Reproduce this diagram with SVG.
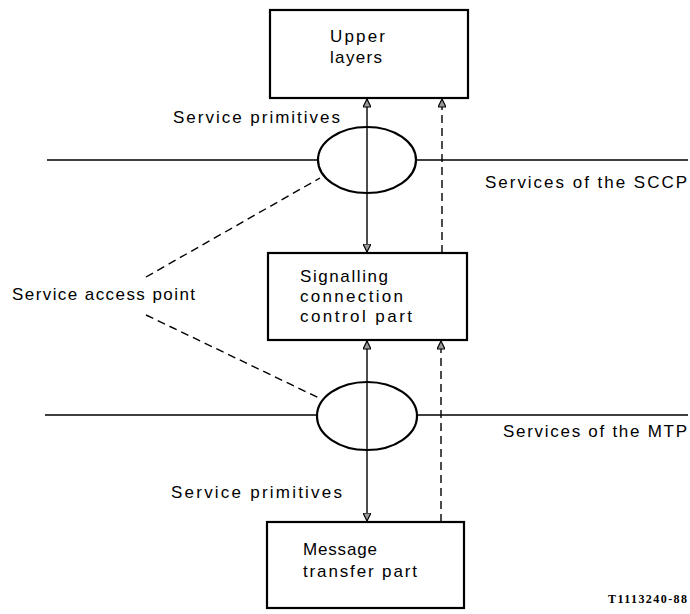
<svg xmlns="http://www.w3.org/2000/svg" width="690" height="614" viewBox="0 0 690 614">
<style>
.box{fill:#fff;stroke:#000;stroke-width:2.2}
.ell{fill:none;stroke:#000;stroke-width:2.2}
.ln{fill:none;stroke:#000;stroke-width:1.4}
.dash{fill:none;stroke:#000;stroke-width:1.4;stroke-dasharray:8,5}
text{font-family:"Liberation Sans",Arial,sans-serif;font-size:17px;fill:#000}
.id{font-family:"Liberation Serif","Times New Roman",serif;font-size:12px;font-weight:bold}
</style>
<defs>
<marker id="ah" viewBox="0 0 10 10" refX="10" refY="5" markerWidth="9" markerHeight="8" markerUnits="userSpaceOnUse" orient="auto-start-reverse">
<path d="M0,0 L10,5 L0,10 z" fill="#999" stroke="#000" stroke-width="1.5"/>
</marker>
</defs>
<g id="connectors">
<line class="ln" x1="47" y1="160" x2="318" y2="160"/>
<line class="ln" x1="417" y1="160" x2="688" y2="160"/>
<line class="ln" x1="45" y1="415" x2="318" y2="415"/>
<line class="ln" x1="417" y1="415" x2="688" y2="415"/>
<line class="dash" x1="146" y1="277" x2="320" y2="178"/>
<line class="dash" x1="146" y1="315" x2="319" y2="398"/>
<line class="ln" x1="367" y1="99" x2="367" y2="252" marker-start="url(#ah)" marker-end="url(#ah)"/>
<line class="dash" x1="442" y1="253" x2="442" y2="99" marker-end="url(#ah)"/>
<line class="ln" x1="367" y1="341" x2="367" y2="521" marker-start="url(#ah)" marker-end="url(#ah)"/>
<line class="dash" x1="441" y1="522" x2="441" y2="341" marker-end="url(#ah)"/>
</g>
<g id="sap-upper"><ellipse class="ell" cx="367" cy="160" rx="49" ry="33"/></g>
<g id="sap-lower"><ellipse class="ell" cx="367" cy="416" rx="50" ry="34"/></g>
<g id="upper-layers">
<rect class="box" x="270" y="10" width="198" height="88"/>
<text x="330" y="42" textLength="55">Upper</text>
<text x="330" y="63" textLength="52">layers</text>
</g>
<g id="sccp">
<rect class="box" x="268" y="253" width="199" height="87"/>
<text x="300" y="282" textLength="88">Signalling</text>
<text x="300" y="302" textLength="103">connection</text>
<text x="300" y="322" textLength="112">control part</text>
</g>
<g id="mtp">
<rect class="box" x="267" y="522" width="197" height="86"/>
<text x="303" y="555" textLength="74">Message</text>
<text x="303" y="577" textLength="114">transfer part</text>
</g>
<g id="labels">
<text x="173" y="123" textLength="167">Service primitives</text>
<text x="171" y="498" textLength="171">Service primitives</text>
<text x="12" y="300" textLength="183">Service access point</text>
<text x="485" y="188" textLength="202">Services of the SCCP</text>
<text x="503" y="437" textLength="184">Services of the MTP</text>
<text class="id" x="608" y="603" textLength="79">T1113240-88</text>
</g>
</svg>
